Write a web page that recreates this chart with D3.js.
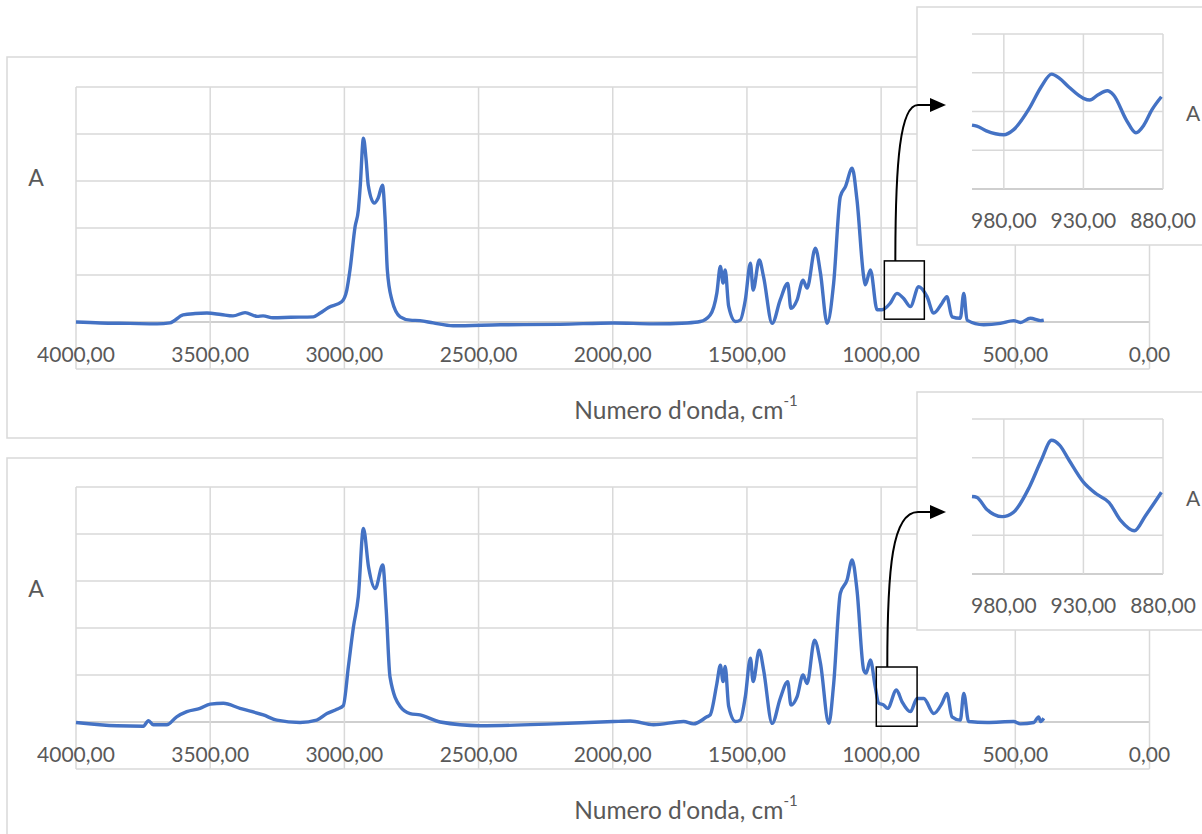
<!DOCTYPE html>
<html>
<head>
<meta charset="utf-8">
<script src="https://cdn.jsdelivr.net/npm/d3@7"></script>
<style>
  body { margin: 0; background: #fff; }
  svg { display: block; }
  text { font-family: Lato, "Open Sans", sans-serif; fill: #595959; }
</style>
</head>
<body>
<svg id="chart" width="1202" height="834"></svg>
<script>
// wavenumber ticks for the main spectra and the zoom insets
var xTicks = [4000, 3500, 3000, 2500, 2000, 1500, 1000, 500, 0];
var yTicks = [-0.1, 0, 0.1, 0.2, 0.3, 0.4, 0.5];
var insetXTicks = [980, 930, 880];
var insetYTicks = [0, 0.02, 0.04, 0.06, 0.08];

// spectrum 1 (top)
var wnTop = [4000, 3910, 3800, 3698, 3650, 3601, 3556, 3512, 3460, 3415, 3370, 3325, 3303, 3266, 3200, 3116, 3090, 3059, 3010, 2991,
  2979, 2960, 2948, 2941, 2929, 2919, 2911, 2889, 2874, 2858, 2848, 2840, 2823, 2792, 2755, 2718, 2669, 2595, 2419, 2196,
  1998, 1850, 1722, 1674, 1637, 1612, 1599, 1589, 1581, 1568, 1543, 1525, 1506, 1487, 1477, 1454, 1438, 1406, 1376, 1348,
  1336, 1313, 1291, 1276, 1245, 1226, 1201, 1177, 1152, 1133, 1108, 1090, 1065, 1059, 1040, 1015, 997, 966, 941, 916,
  891, 860, 829, 804, 773, 755, 736, 705, 692, 680, 618, 556, 506, 481, 444, 406, 394];
var absTop = [0.000, -0.002, -0.003, -0.004, -0.002, 0.015, 0.018, 0.019, 0.016, 0.013, 0.020, 0.012, 0.013, 0.009, 0.010, 0.011, 0.019, 0.031, 0.043, 0.068,
  0.111, 0.203, 0.238, 0.288, 0.391, 0.345, 0.291, 0.253, 0.264, 0.291, 0.217, 0.111, 0.047, 0.011, 0.004, 0.003, -0.002, -0.008, -0.006, -0.005,
  -0.002, -0.004, -0.002, 0.001, 0.015, 0.062, 0.118, 0.083, 0.111, 0.033, 0.001, 0.004, 0.047, 0.125, 0.068, 0.132, 0.096, -0.003, 0.047, 0.082,
  0.029, 0.047, 0.089, 0.072, 0.157, 0.104, -0.003, 0.082, 0.267, 0.288, 0.327, 0.260, 0.096, 0.079, 0.111, 0.026, 0.026, 0.040, 0.061, 0.050,
  0.033, 0.075, 0.054, 0.019, 0.040, 0.054, 0.011, 0.008, 0.061, 0.004, -0.006, -0.003, 0.003, -0.001, 0.008, 0.003, 0.004];

// spectrum 2 (bottom)
var wnBottom = [4000, 3848, 3749, 3730, 3712, 3662, 3625, 3587, 3538, 3500, 3451, 3389, 3302, 3252, 3165, 3103, 3065, 3028, 3004, 2985,
  2966, 2948, 2929, 2910, 2885, 2857, 2844, 2830, 2792, 2755, 2718, 2643, 2494, 2221, 1997, 1935, 1848, 1736, 1699, 1649,
  1637, 1612, 1599, 1589, 1581, 1568, 1543, 1525, 1506, 1487, 1477, 1454, 1438, 1406, 1376, 1348, 1336, 1313, 1291, 1276,
  1248, 1226, 1195, 1177, 1152, 1127, 1108, 1090, 1065, 1056, 1040, 1022, 1009, 990, 976, 943, 922, 891, 866, 841,
  804, 773, 755, 736, 705, 692, 674, 605, 506, 481, 431, 413, 406, 394];
var absBottom = [-0.001, -0.008, -0.009, 0.003, -0.006, -0.006, 0.011, 0.022, 0.029, 0.038, 0.040, 0.029, 0.015, 0.004, -0.001, 0.004, 0.018, 0.027, 0.035, 0.118,
  0.203, 0.267, 0.412, 0.330, 0.284, 0.334, 0.238, 0.096, 0.033, 0.018, 0.015, 0.000, -0.008, -0.004, 0.001, 0.002, -0.006, 0.001, -0.004, 0.011,
  0.015, 0.082, 0.121, 0.086, 0.118, 0.033, 0.001, 0.004, 0.054, 0.136, 0.086, 0.153, 0.111, -0.003, 0.050, 0.086, 0.036, 0.054, 0.100, 0.082,
  0.174, 0.125, -0.003, 0.080, 0.274, 0.302, 0.345, 0.281, 0.111, 0.104, 0.132, 0.075, 0.040, 0.036, 0.029, 0.068, 0.043, 0.022, 0.050, 0.050,
  0.018, 0.040, 0.061, 0.011, 0.004, 0.061, 0.001, -0.001, 0.001, -0.004, -0.001, 0.011, 0.001, 0.008];

// zoomed region 1000-880 cm-1
var insetWnTop = [1000, 997, 991, 980, 974, 964, 956.5, 950, 945, 939, 930, 926, 921, 915, 911, 903, 897, 892, 887, 881];
var insetAbsTop = [0.033, 0.0325, 0.030, 0.028, 0.0305, 0.0416, 0.0528, 0.0593, 0.0571, 0.0525, 0.0468, 0.0459, 0.0485, 0.0507, 0.0485, 0.0356, 0.029, 0.033, 0.0408, 0.0476];
var insetWnBottom = [1000, 997, 991, 981, 974, 964, 956.5, 950, 945, 939, 930, 922, 914, 906.5, 898, 891, 881];
var insetAbsBottom = [0.040, 0.0396, 0.0336, 0.0296, 0.0318, 0.0448, 0.0587, 0.069, 0.0665, 0.0587, 0.0474, 0.0414, 0.037, 0.0275, 0.0223, 0.0301, 0.0422];

var svg = d3.select("#chart");
var blue = "#4472C4", grid = "#d9d9d9", axisCol = "#bfbfbf";
var fmt = function(v) { return d3.format(".2f")(v).replace(".", ","); };

function drawMain(wn, ab, top, box, labelA) {
  var g = svg.append("g");
  g.append("rect").attr("x", 7).attr("y", box[0]).attr("width", 1230).attr("height", box[1] - box[0])
    .attr("fill", "#fff").attr("stroke", grid).attr("stroke-width", 1.5);

  var x = d3.scaleLinear().domain([4000, 0]).range([76, 1149.5]);
  var y = d3.scaleLinear().domain([-0.1, 0.5]).range([top + 282, top]);

  g.selectAll(".hg").data(yTicks).enter().append("line")
    .attr("x1", x(4000)).attr("x2", x(0))
    .attr("y1", d => y(d)).attr("y2", d => y(d))
    .attr("stroke", d => d === 0 ? axisCol : grid).attr("stroke-width", 1.5);
  g.selectAll(".vg").data(xTicks).enter().append("line")
    .attr("x1", d => x(d)).attr("x2", d => x(d))
    .attr("y1", y(0.5)).attr("y2", y(-0.1))
    .attr("stroke", grid).attr("stroke-width", 1.5);

  g.selectAll(".xl").data(xTicks).enter().append("text")
    .attr("x", d => x(d)).attr("y", y(0) + 31)
    .attr("text-anchor", "middle").attr("dominant-baseline", "central")
    .attr("font-size", 21).text(fmt);

  var pts = wn.map((d, i) => [d, ab[i]]);
  var line = d3.line().x(d => x(d[0])).y(d => y(d[1])).curve(d3.curveMonotoneX);
  g.append("path").attr("d", line(pts)).attr("fill", "none")
    .attr("stroke", blue).attr("stroke-width", 3.4).attr("stroke-linejoin", "round");

  g.append("text").attr("x", 36).attr("y", y(labelA)).attr("text-anchor", "middle")
    .attr("dominant-baseline", "central").attr("font-size", 23).text("A");

  var t = g.append("text").attr("x", 686).attr("y", y(-0.1) + 40).attr("text-anchor", "middle")
    .attr("dominant-baseline", "central").attr("font-size", 24.5);
  t.append("tspan").text("Numero d'onda, cm");
  t.append("tspan").attr("font-size", 15).attr("dy", -9).text("-1");
  return {x: x, y: y, g: g};
}

function drawInset(wn, ab, boxTop, plotTop) {
  var g = svg.append("g");
  g.append("rect").attr("x", 917).attr("y", boxTop).attr("width", 320).attr("height", 238)
    .attr("fill", "#fff").attr("stroke", grid).attr("stroke-width", 1.5);

  var x = d3.scaleLinear().domain([1000, 880]).range([972, 1163]);
  var y = d3.scaleLinear().domain([0, 0.08]).range([plotTop + 155, plotTop]);

  g.selectAll(".ihg").data(insetYTicks).enter().append("line")
    .attr("x1", x(1000)).attr("x2", x(880))
    .attr("y1", d => y(d)).attr("y2", d => y(d))
    .attr("stroke", d => d === 0 ? axisCol : grid).attr("stroke-width", 1.5);
  g.selectAll(".ivg").data(insetXTicks).enter().append("line")
    .attr("x1", d => x(d)).attr("x2", d => x(d))
    .attr("y1", y(0.08)).attr("y2", y(0))
    .attr("stroke", grid).attr("stroke-width", 1.5);
  g.selectAll(".ixl").data(insetXTicks).enter().append("text")
    .attr("x", d => x(d)).attr("y", y(0) + 30.5)
    .attr("text-anchor", "middle").attr("dominant-baseline", "central")
    .attr("font-size", 21).text(fmt);

  var pts = wn.map((d, i) => [d, ab[i]]);
  var line = d3.line().x(d => x(d[0])).y(d => y(d[1])).curve(d3.curveMonotoneX);
  g.append("path").attr("d", line(pts)).attr("fill", "none")
    .attr("stroke", blue).attr("stroke-width", 3.4).attr("stroke-linejoin", "round");

  g.append("text").attr("x", 1186).attr("y", y(0.04) + 1)
    .attr("dominant-baseline", "central").attr("font-size", 21).text("A");
}

// zoom box on the main chart + curved arrow to the inset
function drawCallout(m, region, arrowY) {
  var x0 = m.x(region[0]), x1 = m.x(region[1]);
  var y0 = m.y(region[3]), y1 = m.y(region[2]);
  svg.append("rect").attr("x", x0).attr("y", y0).attr("width", x1 - x0).attr("height", y1 - y0)
    .attr("fill", "none").attr("stroke", "#000").attr("stroke-width", 1.5);
  var sx = x0 + 11;
  svg.append("path")
    .attr("d", "M" + sx + "," + y0 + " C" + sx + "," + (arrowY + 55) + " " + (sx + 5) + "," + arrowY + " " + 918 + "," + arrowY + " L" + 932 + "," + arrowY)
    .attr("fill", "none").attr("stroke", "#000").attr("stroke-width", 2);
  svg.append("path")
    .attr("d", "M930," + (arrowY - 7) + " L946," + arrowY + " L930," + (arrowY + 7) + " Z")
    .attr("fill", "#000");
}

var m1 = drawMain(wnTop, absTop, 87, [57, 438], 0.308);
var m2 = drawMain(wnBottom, absBottom, 487, [458, 860], 0.285);
drawInset(insetWnTop, insetAbsTop, 7, 34);
drawInset(insetWnBottom, insetAbsBottom, 392, 419);
drawCallout(m1, [988, 839, 0.006, 0.130], 105);
drawCallout(m2, [1018, 866, -0.009, 0.117], 512);
</script>
</body>
</html>
